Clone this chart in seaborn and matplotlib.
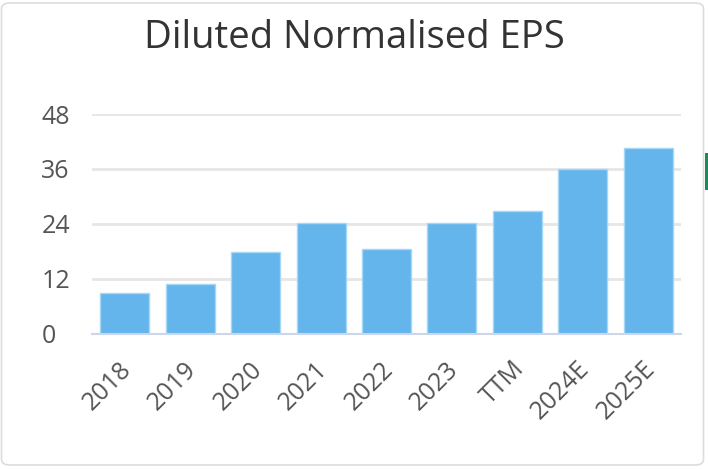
import matplotlib
matplotlib.use("Agg")
import matplotlib.pyplot as plt
import matplotlib.transforms as mtransforms
import seaborn as sns
import pandas as pd
from matplotlib.patches import FancyBboxPatch, Rectangle

categories = ["2018", "2019", "2020", "2021", "2022", "2023", "TTM", "2024E", "2025E"]
eps_values = [8.8, 10.8, 17.9, 24.1, 18.4, 24.1, 26.7, 35.9, 40.5]
y_ticks = [0, 12, 24, 36, 48]
title_text = "Diluted Normalised EPS"

df = pd.DataFrame({"period": categories, "eps": eps_values})

sns.set_theme(style="white")
plt.rcParams['font.family'] = ['Open Sans', 'DejaVu Sans']

fig = plt.figure(figsize=(7.08, 4.70), dpi=100)
fig.patch.set_facecolor("white")

# card border
card = FancyBboxPatch((1.5 / 708, 5 / 470), 702 / 708, 462 / 470,
                      boxstyle="round,pad=0,rounding_size=0.012",
                      transform=fig.transFigure, facecolor="none",
                      edgecolor="#dcdcdc", linewidth=1.2)
fig.patches.append(card)
fig.patches.append(Rectangle((705 / 708, (470 - 190) / 470), 3 / 708, 37 / 470,
                             transform=fig.transFigure, facecolor="#1e8a5a",
                             edgecolor="none"))

ax = fig.add_axes([92 / 708, 1 - 333.5 / 470, (681 - 92) / 708, (333.5 - 114) / 470])
sns.barplot(data=df, x="period", y="eps", ax=ax, color="#63b5ec",
            saturation=1, width=0.75, edgecolor="#a8d6f5", linewidth=1, zorder=3)

ax.set_ylim(0, 48)
ax.set_xlim(-0.5, len(categories) - 0.5)
ax.set_yticks(y_ticks)
ax.set_yticklabels([str(t) for t in y_ticks])
ax.yaxis.grid(True, color="#e6e6e6", linewidth=2, zorder=0)
ax.set_axisbelow(True)
for side in ["top", "right", "left"]:
    ax.spines[side].set_visible(False)
ax.spines["bottom"].set_color("#ccd6eb")
ax.spines["bottom"].set_linewidth(1.5)
ax.spines["bottom"].set_zorder(4)
ax.set_xlabel("")
ax.set_ylabel("")
ax.tick_params(axis="y", length=0, pad=36.5, labelsize=18, labelcolor="#555555")
ax.tick_params(axis="x", length=0, pad=23, labelsize=18, labelcolor="#555555")
for lbl in ax.get_yticklabels():
    lbl.set_horizontalalignment("left")
offset = mtransforms.ScaledTranslation(3 / 100, 0, fig.dpi_scale_trans)
for lbl in ax.get_xticklabels():
    lbl.set_rotation(45)
    lbl.set_horizontalalignment("right")
    lbl.set_verticalalignment("center")
    lbl.set_rotation_mode("anchor")
    lbl.set_transform(lbl.get_transform() + offset)

fig.text(354 / 708, 1 - 38 / 470, title_text, ha="center", va="center",
         fontsize=27.5, color="#333333",
         family=["Open Sans", "DejaVu Sans"])

fig.savefig("out.png", dpi=100, facecolor="white")
